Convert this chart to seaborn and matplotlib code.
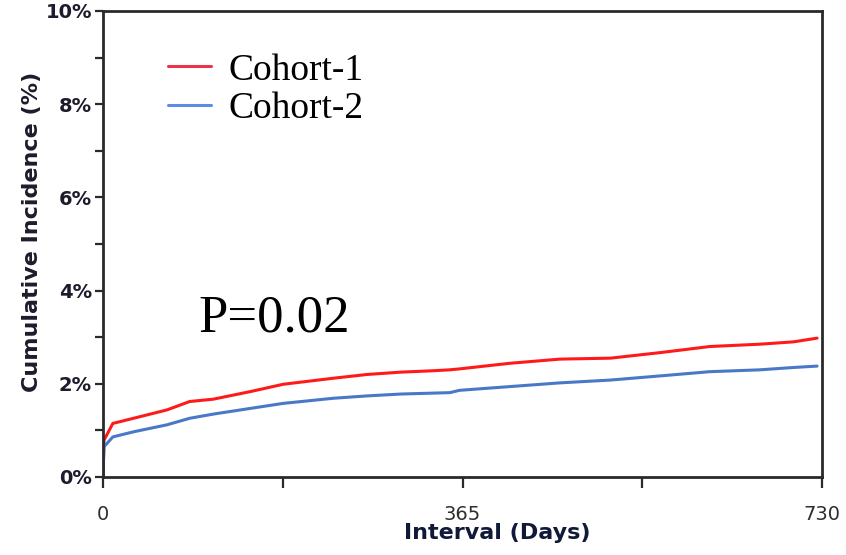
import matplotlib
matplotlib.use("Agg")
import matplotlib.pyplot as plt
from matplotlib.lines import Line2D
from matplotlib.ticker import MultipleLocator, FixedLocator, FuncFormatter
import seaborn as sns
import pandas as pd

# ---- data ----
days = [0, 1, 10, 31, 65, 88, 112, 149, 183, 234, 268, 302, 335, 352, 362,
        413, 464, 515, 566, 616, 667, 701, 725]
cohort1_pct = [0.0, 0.79, 1.15, 1.26, 1.44, 1.62, 1.67, 1.83, 1.99, 2.12, 2.20,
               2.25, 2.28, 2.30, 2.32, 2.44, 2.53, 2.55, 2.67, 2.80, 2.85, 2.90, 2.98]
cohort2_pct = [0.0, 0.65, 0.86, 0.97, 1.12, 1.26, 1.35, 1.47, 1.58, 1.69, 1.74,
               1.78, 1.80, 1.81, 1.86, 1.94, 2.02, 2.08, 2.17, 2.26, 2.30, 2.35, 2.38]
cohort_names = ["Cohort-1", "Cohort-2"]
x_tick_values = [0, 182.5, 365, 547.5, 730]
x_tick_labels = ["0", "", "365", "", "730"]
p_text = "P=0.02"

line_colors = {"Cohort-1": "#FF1A1A", "Cohort-2": "#4A78C8"}
legend_colors = ["#E8354C", "#5A8CE6"]

df = pd.DataFrame({
    "day": days + days,
    "pct": cohort1_pct + cohort2_pct,
    "cohort": [cohort_names[0]] * len(days) + [cohort_names[1]] * len(days),
})

sns.set_style("white")
fig = plt.figure(figsize=(8.46, 5.55), dpi=100)
ax = fig.add_axes([103 / 846, 78 / 555, 719 / 846, 466 / 555])

sns.lineplot(data=df, x="day", y="pct", hue="cohort", palette=line_colors,
             estimator=None, sort=False, linewidth=2.2, legend=False, ax=ax)

ax.set_xlim(0, 730)
ax.set_ylim(0, 10)

# spines
for s in ax.spines.values():
    s.set_visible(True)
    s.set_color("#2a2a2a")
    s.set_linewidth(2.0)

# y ticks
ax.yaxis.set_major_locator(MultipleLocator(2))
ax.yaxis.set_minor_locator(MultipleLocator(1))
ax.yaxis.set_major_formatter(FuncFormatter(lambda v, p: f"{v:.0f}%"))
ax.tick_params(axis="y", which="both", direction="out", length=6, width=1.6,
               color="#2a2a2a", left=True, right=False, pad=2)
for lab in ax.get_yticklabels():
    lab.set_fontweight("bold")
    lab.set_fontsize(14)
    lab.set_color("#1c1c2c")

# x ticks
ax.xaxis.set_major_locator(FixedLocator(x_tick_values))
ax.set_xticklabels(x_tick_labels)
ax.tick_params(axis="x", which="both", direction="out", length=8, width=1.6,
               color="#2a2a2a", bottom=True, top=False, pad=12,
               labelsize=14, labelcolor="#2e2e2e")

ax.set_xlabel("Interval (Days)", fontsize=16, fontweight="bold", color="#101a38",
              va="center")
ax.xaxis.set_label_coords(0.548, -0.12)
ax.set_ylabel("Cumulative Incidence (%)", fontsize=16, fontweight="bold",
              color="#1c1c2c", va="center")
ax.yaxis.set_label_coords(-(103 - 32) / 719, (477 - 232) / 466)

# legend
handles = [Line2D([0], [0], color=legend_colors[i], lw=2.2) for i in range(2)]
ax.legend(handles, cohort_names, loc="upper left",
          bbox_to_anchor=((168 - 103) / 719, (477 - 53) / 466),
          frameon=False, prop={"family": "Liberation Serif", "size": 27},
          handlelength=1.15, handletextpad=0.45, labelspacing=0.1,
          borderpad=0, borderaxespad=0, labelcolor="black")

ax.text((274.5 - 103) / 719, (477 - 318) / 466, p_text, transform=ax.transAxes,
        ha="center", va="center", fontsize=38, family="Liberation Serif",
        color="black")

fig.savefig("out.png", dpi=100)
